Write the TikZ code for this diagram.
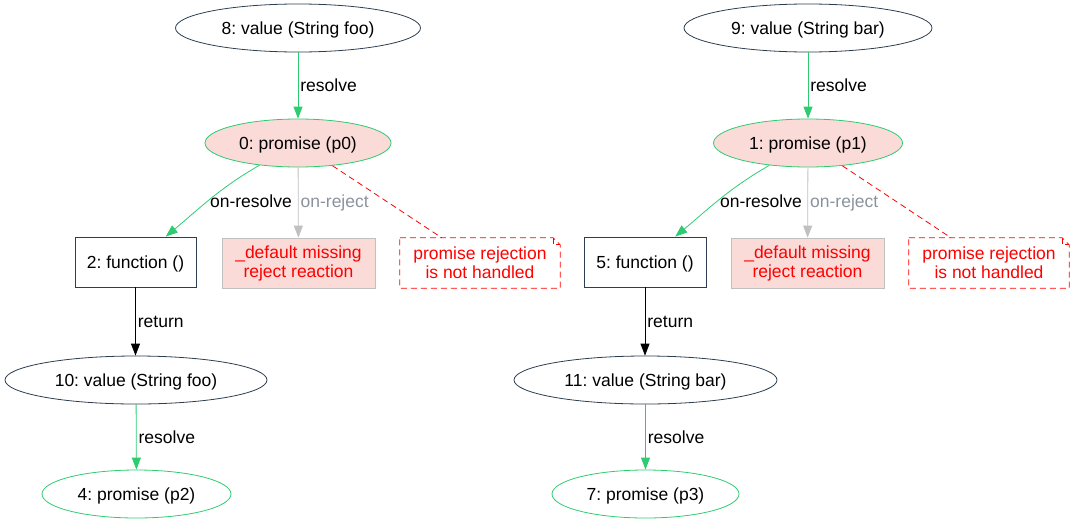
\documentclass[tikz,border=0pt]{standalone}
\usepackage{fontspec}
\setmainfont{Liberation Sans}
\usetikzlibrary{arrows.meta,shapes.geometric}
\definecolor{emerald}{HTML}{2ECC71}
\definecolor{navy}{HTML}{2C3E50}
\definecolor{blush}{HTML}{FADBD8}
\definecolor{silver}{HTML}{C0C0C0}
\definecolor{slate}{HTML}{8A939C}
\definecolor{alarm}{HTML}{FF0000}
\frenchspacing
\tikzset{
  every node/.style={font=\fontsize{17.5}{20}\selectfont, inner sep=0pt},
  oneline/.style={text height=14.5pt, text depth=1.5pt},
  valnode/.style={ellipse, oneline, draw=navy, line width=0.8pt},
  promnode/.style={ellipse, oneline, draw=emerald, line width=0.8pt},
  rejprom/.style={promnode, fill=blush},
  fnbox/.style={rectangle, oneline, draw=navy, line width=0.8pt},
  defbox/.style={rectangle, draw=silver, fill=blush, text=alarm, line width=0.8pt, align=center},
  notebox/.style={rectangle, text=alarm, align=center},
  tip/.style={-{Triangle[length=12pt,width=9pt]}},
  resolveedge/.style={tip, draw=emerald, line width=0.8pt},
  rejectedge/.style={tip, draw=silver, line width=0.8pt},
  returnedge/.style={tip, draw=black, line width=0.8pt},
  unhandled/.style={draw=alarm, dashed, dash pattern=on 6pt off 4pt, line width=0.8pt},
  elabel/.style={text=black, inner sep=2pt},
  rlabel/.style={text=slate, inner sep=2pt}
}
\newcommand{\notepath}[1]{%
  \draw[unhandled] (#1.north west) -- ([xshift=-7pt]#1.north east) -- ([yshift=-7pt]#1.north east) -- (#1.south east) -- (#1.south west) -- cycle;
  \draw[unhandled] ([xshift=-7pt]#1.north east) -- ([xshift=-7pt,yshift=-7pt]#1.north east) -- ([yshift=-7pt]#1.north east);
}
\begin{document}
\begin{tikzpicture}[x=1pt,y=-1pt]
\useasboundingbox (0,0) rectangle (1075,525);

% first chain
\node[valnode, minimum width=245pt, minimum height=48pt] (v8) at (298,28) {8: value (String foo)};
\node[rejprom, minimum width=186pt, minimum height=48pt] (p0) at (298,143) {0: promise (p0)};
\node[fnbox, minimum width=121pt, minimum height=50pt] (f2) at (135.5,262) {2: function ()};
\node[defbox, minimum width=153pt, minimum height=50pt] (d0) at (298.5,263) {\_default missing\\[-1pt]reject reaction};
\node[notebox, minimum width=160pt, minimum height=50pt] (u0) at (480,263) {promise rejection\\[-1pt]is not handled};
\notepath{u0}
\node[valnode, minimum width=262pt, minimum height=48pt] (v10) at (136,380) {10: value (String foo)};
\node[promnode, minimum width=189pt, minimum height=48pt] (p2) at (136.5,494) {4: promise (p2)};

\draw[resolveedge] (v8) -- node[elabel, right] {resolve} (p0);
\draw[resolveedge] (p0) to[out=210,in=40] (f2);
\node[elabel, anchor=east] (l0r) at (294,201) {on-resolve};
\draw[rejectedge] (p0) -- node[rlabel, right] {on-reject} (d0);
\draw[unhandled] (p0) -- (u0);
\draw[returnedge] (f2) -- node[elabel, right] {return} (f2 |- v10.north);
\draw[resolveedge] (v10) -- node[elabel, right] {resolve} (p2);

% second chain
\node[valnode, minimum width=248pt, minimum height=48pt] (v9) at (808,28) {9: value (String bar)};
\node[rejprom, minimum width=189pt, minimum height=48pt] (p1) at (808,143) {1: promise (p1)};
\node[fnbox, minimum width=122pt, minimum height=50pt] (f5) at (645,262) {5: function ()};
\node[defbox, minimum width=153pt, minimum height=50pt] (d1) at (807.5,263) {\_default missing\\[-1pt]reject reaction};
\node[notebox, minimum width=160pt, minimum height=50pt] (u1) at (989,263) {promise rejection\\[-1pt]is not handled};
\notepath{u1}
\node[valnode, minimum width=263pt, minimum height=48pt] (v11) at (645.5,380) {11: value (String bar)};
\node[promnode, minimum width=187pt, minimum height=48pt] (p3) at (645.5,494) {7: promise (p3)};

\draw[resolveedge] (v9) -- node[elabel, right] {resolve} (p1);
\draw[resolveedge] (p1) to[out=210,in=40] (f5);
\node[elabel, anchor=east] (l1r) at (804,201) {on-resolve};
\draw[rejectedge] (p1) -- node[rlabel, right] {on-reject} (d1);
\draw[unhandled] (p1) -- (u1);
\draw[returnedge] (f5) -- node[elabel, right] {return} (f5 |- v11.north);
\draw[resolveedge] (v11) -- node[elabel, right] {resolve} (p3);
\end{tikzpicture}
\end{document}
